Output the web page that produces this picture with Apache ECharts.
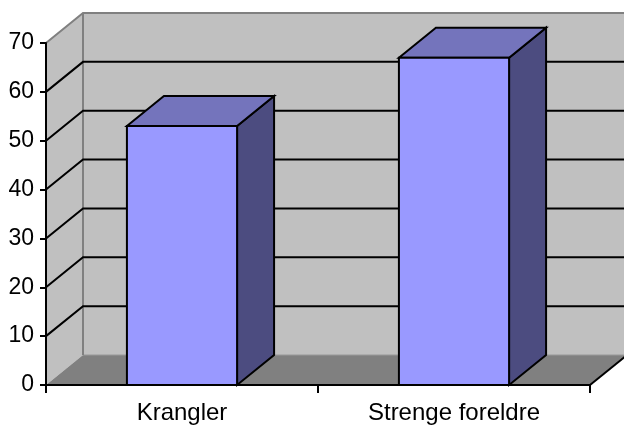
<!DOCTYPE html>
<html>
<head>
<meta charset="utf-8">
<style>
  html, body { margin: 0; padding: 0; background: #ffffff; }
  #chart { width: 624px; height: 425px; }
</style>
<script src="https://cdn.jsdelivr.net/npm/echarts@6/dist/echarts.min.js"></script>
</head>
<body>
<div id="chart"></div>
<script>
// Categories and values
const categories = ['Krangler', 'Strenge foreldre'];
const values = [53, 67];
// Value axis ticks
const yTicks = [0, 10, 20, 30, 40, 50, 60, 70];

// Perspective offset of the back plane (pixels)
const DX = 37, DY = -30;
const FONT = '"Liberation Sans", Arial, sans-serif';

const chart = echarts.init(document.getElementById('chart'), null, { renderer: 'canvas' });

// Walls and floor of the 3D box
function renderBox(params, api) {
  const cs = params.coordSys;
  const x0 = cs.x, x1 = cs.x + cs.width;
  const yTop = api.coord([0, yTicks[yTicks.length - 1]])[1];
  const yBot = api.coord([0, 0])[1];
  return {
    type: 'group',
    children: [
      { type: 'polygon', shape: { points: [[x0 + DX, yTop + DY], [x1 + DX + 20, yTop + DY], [x1 + DX + 20, yBot + DY], [x0 + DX, yBot + DY]] },
        style: { fill: '#c0c0c0' } },
      { type: 'polygon', shape: { points: [[x0, yTop], [x0 + DX, yTop + DY], [x0 + DX, yBot + DY], [x0, yBot]] },
        style: { fill: '#c0c0c0' } },
      { type: 'polygon', shape: { points: [[x0, yBot], [x1, yBot], [x1 + DX, yBot + DY], [x0 + DX, yBot + DY]] },
        style: { fill: '#808080' } },
      { type: 'polyline', shape: { points: [[x0 + DX, yBot + DY], [x1 + DX + 20, yBot + DY]] },
        style: { stroke: '#999999', lineWidth: 1, fill: null } },
      { type: 'polyline', shape: { points: [[x1, yBot], [x1 + DX, yBot + DY]] },
        style: { stroke: '#000000', lineWidth: 2, fill: null } },
      { type: 'polyline', shape: { points: [[x0, yTop], [x0 + DX, yTop + DY], [x1 + DX + 20, yTop + DY]] },
        style: { stroke: '#808080', lineWidth: 2, fill: null } },
      { type: 'line', shape: { x1: x0 + DX, y1: yTop + DY, x2: x0 + DX, y2: yBot + DY },
        style: { stroke: '#808080', lineWidth: 2 } }
    ]
  };
}

// Gridlines on the side and back walls
function renderGrid(params, api) {
  const v = api.value(0);
  const cs = params.coordSys;
  const x0 = cs.x, x1 = cs.x + cs.width;
  const y = api.coord([0, v])[1];
  return {
    type: 'polyline',
    shape: { points: [[x0, y], [x0 + DX, y + DY], [x1 + DX + 20, y + DY]] },
    style: { stroke: '#000000', lineWidth: 2, fill: null }
  };
}

// 3D bars: front, top and right faces
function renderBar(params, api) {
  const c = api.coord([api.value(0), api.value(1)]);
  const base = api.coord([api.value(0), 0]);
  const w = api.size([1, 0])[0] * 0.405;
  const xl = c[0] - w / 2, xr = c[0] + w / 2;
  const yt = c[1], yb = base[1];
  const edge = { stroke: '#000000', lineWidth: 2, lineJoin: 'miter' };
  return {
    type: 'group',
    children: [
      { type: 'polygon', shape: { points: [[xr, yt], [xr + DX, yt + DY], [xr + DX, yb + DY], [xr, yb]] },
        style: Object.assign({ fill: '#4c4c80' }, edge) },
      { type: 'polygon', shape: { points: [[xl, yt], [xl + DX, yt + DY], [xr + DX, yt + DY], [xr, yt]] },
        style: Object.assign({ fill: '#7474bc' }, edge) },
      { type: 'rect', shape: { x: xl, y: yt, width: w, height: yb - yt },
        style: Object.assign({ fill: '#9999ff' }, edge) }
    ]
  };
}

chart.setOption({
  animation: false,
  backgroundColor: '#ffffff',
  grid: { left: 46, right: 34, top: 43, bottom: 40, containLabel: false },
  xAxis: {
    type: 'category',
    data: categories,
    boundaryGap: true,
    axisLine: { show: true, lineStyle: { color: '#000000', width: 2 } },
    axisTick: { show: true, length: 8, lineStyle: { color: '#000000', width: 2 } },
    axisLabel: { color: '#000000', fontSize: 24, fontFamily: FONT, margin: 16 },
    splitLine: { show: false },
    z: 10
  },
  yAxis: {
    type: 'value',
    min: 0, max: 70, interval: 10,
    axisLine: { show: true, lineStyle: { color: '#000000', width: 2 } },
    axisTick: { show: true, length: 6, lineStyle: { color: '#000000', width: 2 } },
    axisLabel: { color: '#000000', fontSize: 23, fontFamily: FONT, margin: 12 },
    splitLine: { show: false },
    z: 10
  },
  series: [
    { type: 'custom', name: 'box', clip: false, z: 1, silent: true,
      data: [[0, 0]], renderItem: renderBox },
    { type: 'custom', name: 'grid', clip: false, z: 2, silent: true,
      data: yTicks.slice(1, -1).map(v => [v]), encode: { y: 0 }, renderItem: renderGrid },
    { type: 'custom', name: 'bars', clip: false, z: 3,
      data: categories.map((c, i) => [i, values[i]]), encode: { x: 0, y: 1 }, renderItem: renderBar }
  ]
});
</script>
</body>
</html>
